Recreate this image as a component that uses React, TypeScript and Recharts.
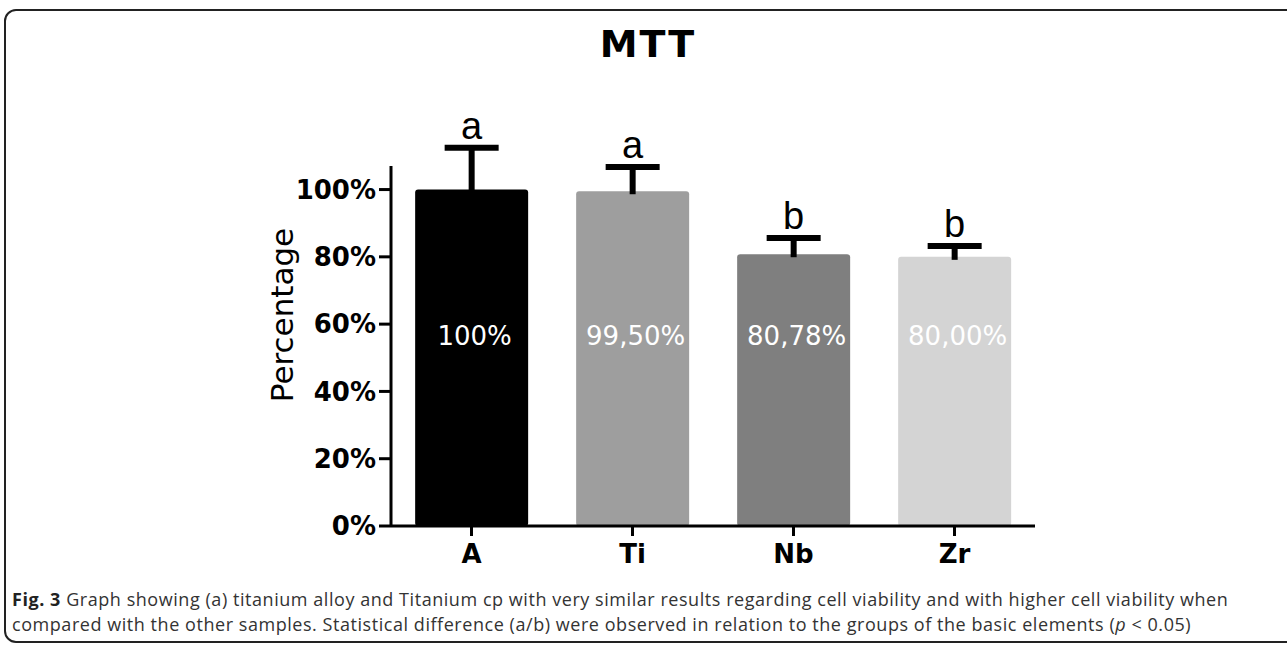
import React from 'react';
import { BarChart, Bar, XAxis, YAxis } from 'recharts';

const categories = ['A', 'Ti', 'Nb', 'Zr'];
const means = [100, 99.5, 80.78, 80.0];
const errors = [12.4, 7.2, 4.8, 3.2];
const letters = ['a', 'a', 'b', 'b'];
const valueLabels = ['100%', '99,50%', '80,78%', '80,00%'];
const colors = ['#000000', '#9e9e9e', '#7f7f7f', '#d4d4d4'];
const yTicks = [0, 20, 40, 60, 80, 100];

const data = categories.map((name, i) => ({
  name,
  value: means[i],
  err: errors[i],
  letter: letters[i],
  label: valueLabels[i],
  color: colors[i],
}));

const BarWithError = (props: any) => {
  const { x, y, width, height, payload } = props;
  const pxPer = height / payload.value;
  const cx = x + width / 2;
  const top = y - payload.err * pxPer;
  const base = y + height;
  return (
    <g>
      <rect x={x} y={y} width={width} height={height} rx={3} ry={3} fill={payload.color} />
      <line x1={cx} x2={cx} y1={y + 3} y2={top} stroke="#000" strokeWidth={6} />
      <line x1={cx - 27} x2={cx + 27} y1={top} y2={top} stroke="#000" strokeWidth={6} />
      <text x={cx} y={top - 9} textAnchor="middle" fontSize={38} fontFamily="Liberation Sans, Arial" fill="#000">
        {payload.letter}
      </text>
      <text
        x={cx + 3}
        y={base - 190}
        textAnchor="middle"
        dominantBaseline="central"
        fontSize={26}
        fontFamily="DejaVu Sans"
        fill="#fff"
      >
        {payload.label}
      </text>
    </g>
  );
};

const YLabel = () => (
  <text
    x={282}
    y={315}
    transform="rotate(-90 282 315)"
    textAnchor="middle"
    dominantBaseline="central"
    fontSize={31}
    fontFamily="DejaVu Sans"
    fill="#000"
  >
    Percentage
  </text>
);

export default function App() {
  return (
    <div style={{ position: 'absolute', left: 0, top: 0, width: 1287, height: 645, background: '#fff', overflow: 'hidden' }}>
      <div
        style={{
          position: 'absolute',
          left: 4,
          top: 9,
          width: 1290,
          height: 630,
          border: '2px solid #222',
          borderRadius: 12,
        }}
      />
      <div
        style={{
          position: 'absolute',
          left: 0,
          width: 1296,
          top: 22,
          textAlign: 'center',
          fontFamily: 'DejaVu Sans',
          fontWeight: 'bold',
          fontSize: 38,
          letterSpacing: 2,
          color: '#000',
        }}
      >
        MTT
      </div>
      <div style={{ position: 'absolute', left: 0, top: 0 }}>
        <BarChart
          width={1287}
          height={645}
          data={data}
          margin={{ top: 166, right: 252, bottom: 69, left: 271 }}
          barCategoryGap="15%"
        >
          <XAxis
            dataKey="name"
            axisLine={{ stroke: '#000', strokeWidth: 3 }}
            tickLine={{ stroke: '#000', strokeWidth: 3 }}
            tickSize={10}
            tickMargin={9}
            height={50}
            tick={{ fontSize: 26, fontWeight: 'bold', fontFamily: 'DejaVu Sans', fill: '#000' }}
          />
          <YAxis
            width={120}
            domain={[0, 107]}
            ticks={yTicks}
            tickFormatter={(v: number) => `${v}%`}
            axisLine={{ stroke: '#000', strokeWidth: 3 }}
            tickLine={{ stroke: '#000', strokeWidth: 3 }}
            tickSize={12}
            tickMargin={3}
            tick={{ fontSize: 26, fontWeight: 'bold', fontFamily: 'DejaVu Sans', fill: '#000' }}
            label={<YLabel />}
          />
          <Bar dataKey="value" shape={BarWithError} isAnimationActive={false} />
        </BarChart>
      </div>
      <div
        style={{
          position: 'absolute',
          left: 12,
          top: 587,
          fontFamily: 'Open Sans',
          fontSize: 18,
          letterSpacing: 0.55,
          lineHeight: '25px',
          color: '#333',
          whiteSpace: 'nowrap',
        }}
      >
        <div>
          <b style={{ color: '#222' }}>Fig. 3</b> Graph showing (a) titanium alloy and Titanium cp with very similar results regarding cell viability and with higher cell viability when
        </div>
        <div>
          compared with the other samples. Statistical difference (a/b) were observed in relation to the groups of the basic elements (<i>p</i> &lt; 0.05)
        </div>
      </div>
    </div>
  );
}
